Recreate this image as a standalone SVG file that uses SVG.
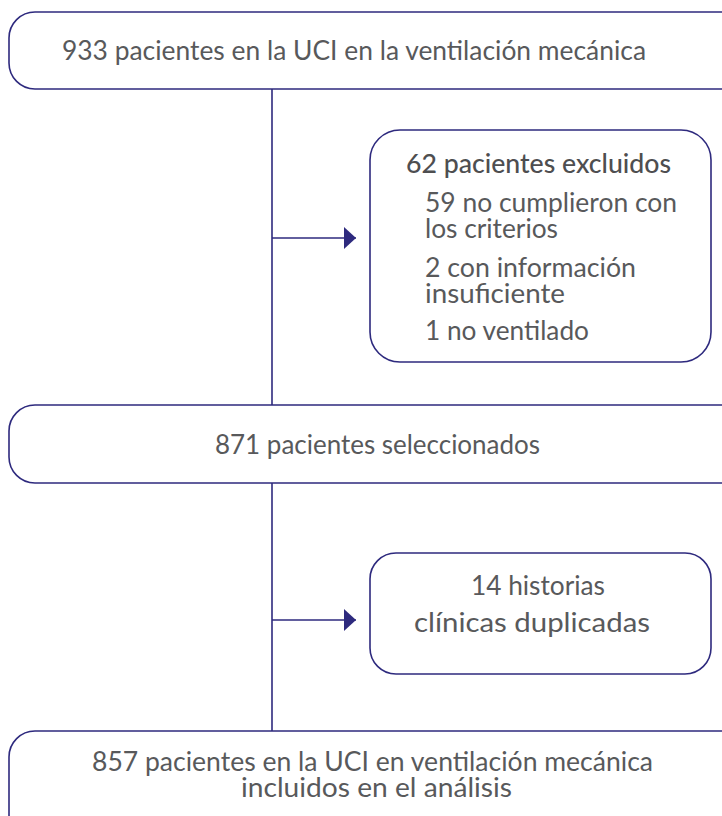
<svg xmlns="http://www.w3.org/2000/svg" width="722" height="816" viewBox="0 0 722 816">
<style>
.box{fill:#fff;stroke:#2e2a7e;stroke-width:1.6}
.t{font-family:Lato,"Open Sans",sans-serif;font-size:26px;fill:#58595b}
.h{font-weight:500;fill:#4e4e50}
.ln{stroke:#2e2a7e;stroke-width:1.6;fill:none}
</style>
<defs>
<marker id="ah" viewBox="0 0 12 22" refX="12" refY="11" markerWidth="12" markerHeight="22" markerUnits="userSpaceOnUse" orient="auto">
<path d="M0,0 L12,11 L0,22 Z" fill="#2e2a7e"/>
</marker>
</defs>
<rect width="722" height="816" fill="#fff"/>
<g id="connectors">
<line class="ln" x1="272" y1="89" x2="272" y2="405"/>
<line class="ln" x1="272" y1="483" x2="272" y2="731"/>
<line class="ln" x1="272" y1="238" x2="356" y2="238" marker-end="url(#ah)"/>
<line class="ln" x1="272" y1="620" x2="356" y2="620" marker-end="url(#ah)"/>
</g>
<g id="n1">
<rect class="box" x="9" y="12" width="740" height="77" rx="26"/>
<text class="t" x="62" y="60" textLength="584" lengthAdjust="spacingAndGlyphs">933 pacientes en la UCI en la ventilación mecánica</text>
</g>
<g id="n2">
<rect class="box" x="370" y="130" width="341" height="232" rx="30"/>
<text class="t h" x="406" y="173" textLength="265" lengthAdjust="spacingAndGlyphs">62 pacientes excluidos</text>
<text class="t" x="425" y="212" textLength="252" lengthAdjust="spacingAndGlyphs">59 no cumplieron con</text>
<text class="t" x="425" y="238" textLength="133" lengthAdjust="spacingAndGlyphs">los criterios</text>
<text class="t" x="425" y="277" textLength="211" lengthAdjust="spacingAndGlyphs">2 con información</text>
<text class="t" x="425" y="303" textLength="140" lengthAdjust="spacingAndGlyphs">insuficiente</text>
<text class="t" x="425" y="340" textLength="164" lengthAdjust="spacingAndGlyphs">1 no ventilado</text>
</g>
<g id="n3">
<rect class="box" x="9" y="405" width="740" height="78" rx="26"/>
<text class="t" x="215" y="454" textLength="325" lengthAdjust="spacingAndGlyphs">871 pacientes seleccionados</text>
</g>
<g id="n4">
<rect class="box" x="370" y="553" width="341" height="121" rx="26"/>
<text class="t" x="471" y="595" textLength="134" lengthAdjust="spacingAndGlyphs">14 historias</text>
<text class="t" x="414" y="632" textLength="236" lengthAdjust="spacingAndGlyphs">clínicas duplicadas</text>
</g>
<g id="n5">
<rect class="box" x="9" y="731" width="740" height="110" rx="26"/>
<text class="t" x="92" y="771" textLength="561" lengthAdjust="spacingAndGlyphs">857 pacientes en la UCI en ventilación mecánica</text>
<text class="t" x="241" y="797" textLength="271" lengthAdjust="spacingAndGlyphs">incluidos en el análisis</text>
</g>
</svg>
